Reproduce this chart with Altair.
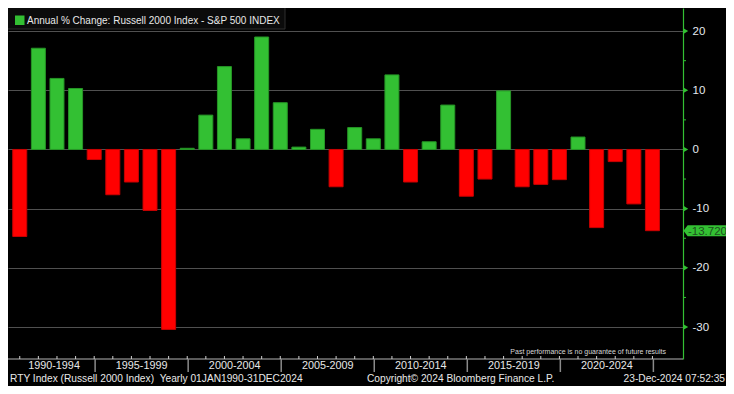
import altair as alt
import pandas as pd

# ---------------- data ----------------
years = list(range(1990, 2025))
values = [-14.7, 17.1, 12.0, 10.3, -1.7, -7.65, -5.5, -10.3, -30.4, 0.2,
          5.8, 14.0, 1.8, 19.0, 7.9, 0.4, 3.4, -6.3, 3.7, 1.8,
          12.6, -5.5, 1.3, 7.5, -7.9, -5.0, 9.9, -6.3, -5.9, -5.1,
          2.1, -13.2, -2.05, -9.2, -13.72]
group_starts = [1990, 1995, 2000, 2005, 2010, 2015, 2020]
group_labels = ["1990-1994", "1995-1999", "2000-2004", "2005-2009",
                "2010-2014", "2015-2019", "2020-2024"]
y_ticks = [-30, -20, -10, 0, 10, 20]
y_minor = [-25, -15, -5, 5, 15]
last_label = "-13.720"
title_text = "Annual % Change: Russell 2000 Index - S&P 500 INDEX"
footer_left = "RTY Index (Russell 2000 Index)\u00a0\u00a0Yearly 01JAN1990-31DEC2024"
footer_mid = "Copyright\u00a9 2024 Bloomberg Finance L.P."
footer_right = "23-Dec-2024 07:52:35"
disclaimer = "Past performance is no guarantee of future results"

# ---------------- layout / style ----------------
W, H = 675, 351
TOTAL_W, TOTAL_H = 718, 378
GREEN = "#33c033"
RED = "#ff0000"
FONT = "Liberation Sans"
TXT = "#e8e8e8"
X_MIN, X_MAX = 1989.637, 2025.373

xs = alt.Scale(domain=[X_MIN, X_MAX], nice=False, zero=False)
ys = alt.Scale(domain=[-35.4, 23.9], nice=False, zero=False)

y_axis = alt.Axis(
    orient="right", values=y_ticks, labelExpr="'' + datum.value",
    grid=True, gridColor="#505050", gridWidth=1,
    domain=True, domainColor=GREEN, domainWidth=1.2,
    ticks=False, labelColor="#e4e9ee", labelFontSize=11.5,
    labelPadding=9, labelFont=FONT, title=None)

df = pd.DataFrame({"year": years, "value": values})

bars = alt.Chart(df).mark_bar(size=14, clip=True, strokeWidth=1).encode(
    x=alt.X("year:Q", scale=xs, axis=None),
    y=alt.Y("value:Q", scale=ys, axis=y_axis, title=None),
    color=alt.condition("datum.value >= 0", alt.value(GREEN), alt.value(RED)),
    stroke=alt.condition("datum.value >= 0", alt.value("#269626"), alt.value("#c80000")),
)

tri = alt.Chart(pd.DataFrame({"v": y_ticks})).mark_point(
    shape="triangle-right", filled=True, size=26, color=GREEN, opacity=1
).encode(x=alt.value(W + 3), y=alt.Y("v:Q", scale=ys, axis=y_axis, title=None))

minor = alt.Chart(pd.DataFrame({"v": y_minor})).mark_rule(color=GREEN, strokeWidth=1).encode(
    x=alt.value(W), x2=alt.value(W + 3), y=alt.Y("v:Q", scale=ys, axis=y_axis, title=None))

pill_path = "M -1 0 L -0.82 -0.24 L 1 -0.24 L 1 0.24 L -0.82 0.24 Z"
last_df = pd.DataFrame({"v": [values[-1]], "t": [last_label]})
pill = alt.Chart(last_df).mark_point(
    shape=pill_path, filled=True, size=2116, color=GREEN, opacity=1
).encode(x=alt.value(W + 23.5), y=alt.Y("v:Q", scale=ys, axis=y_axis, title=None))
pill_text = alt.Chart(last_df).mark_text(
    align="left", baseline="middle", font=FONT, fontSize=11.5, color="#1e4f1e", dy=1
).encode(x=alt.value(W + 5), y=alt.Y("v:Q", scale=ys, axis=y_axis, title=None), text="t:N")

# bottom axis
axis_line = alt.Chart(pd.DataFrame({"a": [0]})).mark_rule(color="#b4b4b4", strokeWidth=1).encode(
    x=alt.value(0), x2=alt.value(W), y=alt.value(H))
year_ticks = alt.Chart(df).mark_rule(color="#d0d0d0", strokeWidth=1, clip=True).encode(
    x=alt.X("year:Q", scale=xs, axis=None), y=alt.value(H - 3), y2=alt.value(H))
sep_df = pd.DataFrame({"s": [g + 4.05 for g in group_starts]})
seps = alt.Chart(sep_df).mark_rule(color="#8a8a8a", strokeWidth=1.5).encode(
    x=alt.X("s:Q", scale=xs, axis=None), y=alt.value(H), y2=alt.value(H + 13))
lab_pos = [(max(g - 0.95, X_MIN) + g + 4.05) / 2 for g in group_starts]
glabels = alt.Chart(pd.DataFrame({"p": lab_pos, "t": group_labels})).mark_text(
    align="center", baseline="middle", font=FONT, fontSize=10.8, color=TXT
).encode(x=alt.X("p:Q", scale=xs, axis=None), y=alt.value(H + 7), text="t:N")

disc = alt.Chart(pd.DataFrame({"t": [disclaimer]})).mark_text(
    align="right", baseline="middle", font=FONT, fontSize=7, color="#d8d8d8"
).encode(x=alt.value(W - 17), y=alt.value(H - 7), text="t:N")

def footer(txt, xpos, align):
    return alt.Chart(pd.DataFrame({"t": [txt]})).mark_text(
        align=align, baseline="middle", font=FONT, fontSize=10.2, color=TXT
    ).encode(x=alt.value(xpos), y=alt.value(H + 20), text="t:N")

f1 = footer(footer_left, 2, "left")
f2 = footer(footer_mid, 359, "left")
f3 = footer(footer_right, TOTAL_W - 1, "right")

# title box
tbox = alt.Chart(pd.DataFrame({"a": [0]})).mark_rect(
    fill="#0b0b0b", stroke="#2e2e2e", strokeWidth=1
).encode(x=alt.value(-1), x2=alt.value(277), y=alt.value(-1), y2=alt.value(21))
tsq = alt.Chart(pd.DataFrame({"a": [0]})).mark_rect(fill=GREEN).encode(
    x=alt.value(7), x2=alt.value(16.5), y=alt.value(7.5), y2=alt.value(17))
ttext = alt.Chart(pd.DataFrame({"t": [title_text]})).mark_text(
    align="left", baseline="middle", font=FONT, fontSize=10, color=TXT
).encode(x=alt.value(19), y=alt.value(12.5), text="t:N")

chart = alt.layer(
    bars, tri, minor, axis_line, year_ticks, seps, glabels, disc,
    pill, pill_text, f1, f2, f3, tbox, tsq, ttext
).properties(
    width=W, height=H,
    padding={"left": 0, "top": 0, "right": TOTAL_W - W, "bottom": TOTAL_H - H},
    autosize=alt.AutoSizeParams(type="none"),
    background="#000000",
).configure_view(stroke=None)

chart.save("out.html", embed_options={"renderer": "svg", "actions": False})
